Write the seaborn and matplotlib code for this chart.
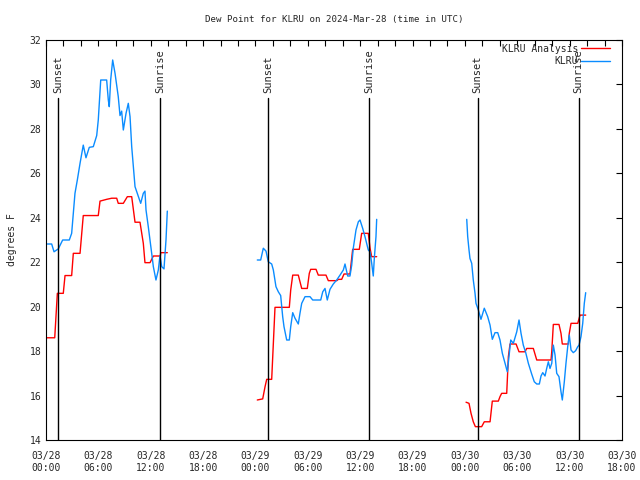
import pandas as pd
import seaborn as sns
import matplotlib
matplotlib.use("Agg")
import matplotlib.pyplot as plt
import matplotlib.dates as mdates

# Hours after 2024-03-28 00:00 UTC
start = pd.Timestamp("2024-03-28 00:00")

# KLRU observations (three segments)
obs1_hours = [0.15, 0.65, 0.92, 1.41, 1.91, 2.67, 2.94, 3.13, 3.32, 3.59, 3.9, 4.27, 4.58, 4.96, 5.42, 5.81,
              5.99, 6.27, 6.95, 7.14, 7.25, 7.41, 7.64, 7.91, 8.28, 8.48, 8.67, 8.86, 9.17, 9.43, 9.63, 9.82,
              10.2, 10.46, 10.85, 11.15, 11.34, 11.46, 11.72, 12.11, 12.3, 12.6, 12.87, 13.06, 13.26, 13.52,
              13.75, 13.9]
obs1_vals = [22.82, 22.82, 22.47, 22.6, 23.0, 23.0, 23.3, 24.2, 25.1, 25.7, 26.45, 27.27, 26.7, 27.17, 27.2, 27.7,
             28.4, 30.2, 30.2, 29.3, 29.0, 30.2, 31.1, 30.5, 29.45, 28.6, 28.8, 27.95, 28.7, 29.15, 28.55, 27.2,
             25.4, 25.1, 24.65, 25.1, 25.2, 24.35, 23.6, 22.4, 21.8, 21.2, 21.65, 22.3, 21.8, 21.7,
             23.0, 24.3]

obs2_hours = [24.21, 24.6, 24.9, 25.21, 25.47, 25.86, 26.05, 26.35, 26.62, 26.89, 27.12, 27.27, 27.58, 27.88,
              28.04, 28.27, 28.53, 28.91, 29.1, 29.3, 29.68, 30.25, 30.56, 31.48, 31.71, 31.97, 32.23, 32.54,
              32.92, 33.31, 33.69, 34.07, 34.26, 34.46, 34.57, 34.83, 35.03, 35.21, 35.52, 35.79, 35.98, 36.29,
              36.55, 36.93, 37.13, 37.32, 37.5, 37.62, 37.81, 37.89]
obs2_vals = [22.1, 22.1, 22.63, 22.5, 22.02, 21.92, 21.65, 20.9, 20.67, 20.5, 19.55, 19.1, 18.5, 18.5,
             19.1, 19.73, 19.48, 19.22, 19.7, 20.15, 20.45, 20.45, 20.3, 20.3, 20.67, 20.82, 20.3, 20.78,
             21.02, 21.2, 21.42, 21.65, 21.92, 21.57, 21.38, 21.38, 21.87, 22.63, 23.45, 23.82, 23.9, 23.52,
             23.15, 22.55, 22.47, 21.95, 21.38, 22.18, 23.15, 23.93]

obs3_hours = [48.21, 48.32, 48.47, 48.58, 48.78, 48.96, 49.16, 49.27, 49.54, 49.84, 50.22, 50.61, 50.88, 51.14,
              51.45, 51.76, 52.02, 52.29, 52.6, 52.86, 53.05, 53.25, 53.55, 53.94, 54.2, 54.43, 54.69, 54.97,
              55.27, 55.65, 55.95, 56.23, 56.53, 56.72, 56.92, 57.18, 57.37, 57.56, 57.75, 57.95, 58.13, 58.33,
              58.52, 58.78, 59.01, 59.16, 59.39, 59.58, 59.78, 59.96, 60.16, 60.42, 60.69, 60.93, 61.08, 61.3,
              61.5, 61.68, 61.84]
obs3_vals = [23.93, 23.15, 22.55, 22.17, 21.95, 21.2, 20.6, 20.15, 19.85, 19.43, 19.93, 19.55, 19.17, 18.53,
             18.83, 18.83, 18.5, 17.9, 17.45, 17.07, 17.75, 18.5, 18.35, 18.87, 19.4, 18.8, 18.27, 17.93,
             17.45, 16.97, 16.62, 16.52, 16.52, 16.88, 17.03, 16.88, 17.22, 17.52, 17.22, 17.45, 18.27, 17.82,
             17.0, 16.85, 16.17, 15.8, 16.62, 17.45, 18.2, 18.72, 18.05, 17.93, 18.02, 18.2, 18.27, 18.65,
             19.25, 20.15, 20.63]

# KLRU analysis (three segments)
ana1_hours = [0.05, 1.0, 1.3, 1.98, 2.18, 2.94, 3.13, 3.9, 4.27, 5.99, 6.19, 6.95, 7.53, 8.1, 8.28, 8.86, 9.32,
              9.82, 10.2, 10.77, 11.15, 11.34, 11.92, 12.3, 13.1, 13.14, 13.9]
ana1_vals = [18.6, 18.6, 20.6, 20.6, 21.4, 21.4, 22.4, 22.4, 24.1, 24.1, 24.75, 24.83, 24.88, 24.88, 24.65, 24.65,
             24.95, 24.95, 23.8, 23.8, 22.85, 21.98, 21.98, 22.28, 22.28, 22.43, 22.43]

ana2_hours = [24.21, 24.83, 25.1, 25.29, 25.86, 26.05, 26.24, 27.88, 28.04, 28.27, 28.91, 29.3, 29.94, 30.17,
              30.33, 30.94, 31.2, 32.08, 32.35, 33.31, 33.5, 33.88, 34.15, 34.83, 35.14, 35.9, 36.17, 36.93,
              37.13, 37.32, 37.89]
ana2_vals = [15.8, 15.85, 16.4, 16.73, 16.73, 18.35, 19.97, 19.97, 20.75, 21.42, 21.42, 20.82, 20.82, 21.5,
             21.68, 21.68, 21.42, 21.42, 21.17, 21.17, 21.23, 21.23, 21.47, 21.47, 22.58, 22.58, 23.3, 23.3,
             22.63, 22.25, 22.25]

ana3_hours = [48.13, 48.47, 48.7, 48.96, 49.2, 49.92, 50.22, 50.88, 51.07, 51.14, 51.83, 52.02, 52.21, 52.79,
              52.98, 53.17, 53.86, 54.2, 54.89, 55.08, 55.84, 56.23, 57.87, 57.95, 58.13, 58.78, 59.01, 59.16,
              59.85, 59.96, 60.16, 60.93, 61.19, 61.84]
ana3_vals = [15.7, 15.65, 15.2, 14.82, 14.6, 14.6, 14.82, 14.82, 15.5, 15.75, 15.75, 15.95, 16.1, 16.1,
             17.75, 18.32, 18.32, 17.97, 17.97, 18.12, 18.12, 17.6, 17.6, 17.97, 19.2, 19.2, 18.8, 18.32,
             18.32, 18.8, 19.25, 19.25, 19.62, 19.62]

sunset_hours = [1.42, 25.43, 49.45]
sunrise_hours = [13.07, 37.05, 61.03]

# build one long table
frames = []
for name, seg, hrs, vals in [
    ("KLRU Analysis", 1, ana1_hours, ana1_vals),
    ("KLRU Analysis", 2, ana2_hours, ana2_vals),
    ("KLRU Analysis", 3, ana3_hours, ana3_vals),
    ("KLRU", 4, obs1_hours, obs1_vals),
    ("KLRU", 5, obs2_hours, obs2_vals),
    ("KLRU", 6, obs3_hours, obs3_vals),
]:
    frames.append(pd.DataFrame({"time": start + pd.to_timedelta(hrs, unit="h"),
                                "dewpt": vals, "series": name, "seg": seg}))
df = pd.concat(frames, ignore_index=True)

sns.set_theme(style="white")
plt.rcParams["font.family"] = ["DejaVu Sans Mono"]

fig = plt.figure(figsize=(6.4, 4.8), dpi=100)
ax = fig.add_axes([46 / 640, 40 / 480, 576 / 640, 400 / 480])

sns.lineplot(data=df, x="time", y="dewpt", hue="series", units="seg", estimator=None,
             palette={"KLRU Analysis": "#ff0000", "KLRU": "#0a8cff"}, linewidth=1.0, ax=ax)

# sunrise / sunset markers
for label, hrs in [("Sunset", sunset_hours), ("Sunrise", sunrise_hours)]:
    for h in hrs:
        t = start + pd.Timedelta(hours=h)
        ax.axvline(t, ymin=0, ymax=(29.4 - 14) / 18, color="black", linewidth=1.0)
        ax.text(t, 29.6, label, rotation=90, ha="center", va="bottom", fontsize=7.5)

ax.set_xlim(start, start + pd.Timedelta(hours=66))
ax.set_ylim(14, 32)
ax.set_yticks(range(14, 33, 2))
ax.xaxis.set_major_locator(mdates.HourLocator(byhour=[0, 6, 12, 18]))
ax.xaxis.set_minor_locator(mdates.HourLocator(interval=2))
ax.xaxis.set_major_formatter(mdates.DateFormatter("%m/%d\n%H:%M"))
ax.tick_params(which="both", direction="in", top=True, right=True, length=4, width=0.8,
               labelsize=7, color="black")
ax.tick_params(axis="x", pad=8)
for s in ax.spines.values():
    s.set_color("black")
    s.set_linewidth(0.8)

ax.set_xlabel("")
ax.set_ylabel("degrees F", fontsize=7)
ax.yaxis.set_label_coords(-0.051, 0.5)
ax.set_title("Dew Point for KLRU on 2024-Mar-28 (time in UTC)", fontsize=6.6, pad=13)

leg = ax.legend(loc="upper right", bbox_to_anchor=(0.99, 1.005), frameon=False, markerfirst=False,
                fontsize=7, handlelength=3.0, handletextpad=0.3, labelspacing=0.25, borderaxespad=0.2)
for t in leg.get_texts():
    t.set_ha("right")

fig.savefig("out.png", dpi=100)
